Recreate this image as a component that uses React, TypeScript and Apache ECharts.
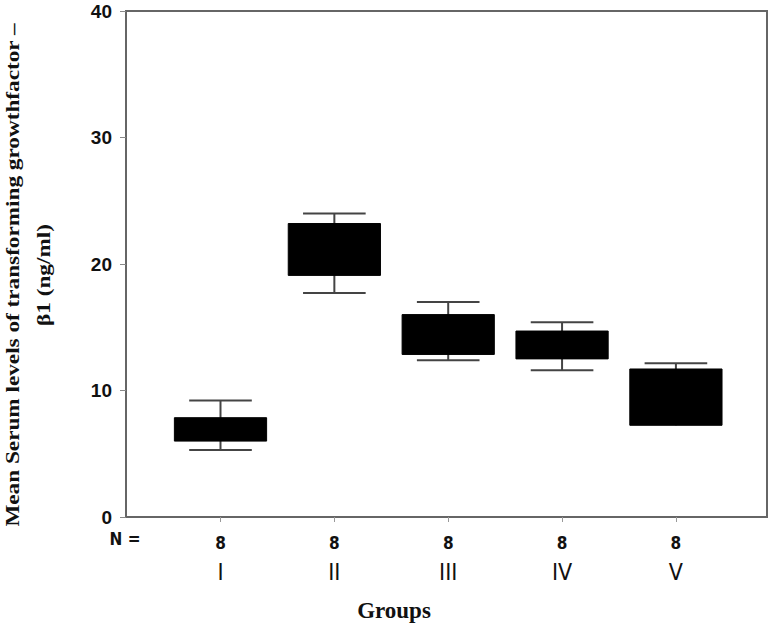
import React, { useEffect, useRef } from "react";
import * as echarts from "echarts";

const groups = ["I", "II", "III", "IV", "V"];
const nCounts = [8, 8, 8, 8, 8];
// box-plot statistics per group
const lowVals = [5.3, 17.7, 12.4, 11.6, 7.25];
const q1Vals = [6.0, 19.1, 12.85, 12.5, 7.25];
const medianVals = [6.9, 21.0, 14.5, 13.6, 9.5];
const q3Vals = [7.85, 23.2, 16.0, 14.7, 11.7];
const highVals = [9.2, 24.0, 17.0, 15.4, 12.15];
const yTicks = [0, 10, 20, 30, 40];
const xPositions = [1, 2, 3, 4, 5];

const narrow = "'DejaVu Sans Condensed', 'Liberation Sans Narrow', 'Liberation Sans', sans-serif";

export default function App() {
  const ref = useRef<HTMLDivElement>(null);
  useEffect(() => {
    if (!ref.current) return;
    const chart = echarts.init(ref.current, null, { renderer: "svg" });
    const data = groups.map((g, i) => [
      xPositions[i],
      lowVals[i],
      q1Vals[i],
      medianVals[i],
      q3Vals[i],
      highVals[i],
    ]);
    const baseX = {
      type: "value",
      min: 0.17,
      max: 5.8,
      position: "bottom",
      splitLine: { show: false },
    };
    const option: any = {
      animation: false,
      backgroundColor: "#ffffff",
      grid: {
        left: 126,
        right: 7,
        top: 11,
        bottom: 109,
        show: true,
        borderColor: "#666666",
        borderWidth: 2,
        backgroundColor: "transparent",
      },
      xAxis: [
        {
          ...baseX,
          axisLine: { show: true, lineStyle: { color: "#666666", width: 2 } },
          axisTick: {
            show: true,
            length: 5,
            customValues: xPositions,
            lineStyle: { color: "#999999", width: 1 },
          },
          axisLabel: {
            customValues: xPositions,
            margin: 17,
            fontFamily: narrow,
            fontWeight: "bold",
            fontSize: 17,
            color: "#111",
            formatter: (v: number) => String(nCounts[Math.round(v) - 1]),
          },
        },
        {
          ...baseX,
          axisLine: { show: false },
          axisTick: { show: false },
          axisLabel: {
            customValues: xPositions,
            margin: 43,
            fontFamily: narrow,
            fontSize: 23,
            color: "#111",
            formatter: (v: number) => groups[Math.round(v) - 1],
          },
        },
      ],
      yAxis: {
        type: "value",
        min: 0,
        max: 40,
        interval: 10,
        splitLine: { show: false },
        axisLine: { show: true, lineStyle: { color: "#666666", width: 2 } },
        axisTick: { show: true, length: 6, lineStyle: { color: "#888888" } },
        axisLabel: {
          fontFamily: "'Liberation Sans', Arial, sans-serif",
          fontWeight: "bold",
          fontSize: 19,
          color: "#111",
          margin: 14,
          formatter: (v: number) => (yTicks.includes(v) ? String(v) : ""),
        },
      },
      graphic: [
        {
          type: "text",
          x: 125,
          y: 539,
          style: {
            text: "N =",
            align: "center",
            verticalAlign: "middle",
            fontFamily: narrow,
            fontWeight: "bold",
            fontSize: 17,
            fill: "#111",
          },
        },
        {
          type: "text",
          x: 394,
          y: 610,
          style: {
            text: "Groups",
            align: "center",
            verticalAlign: "middle",
            fontFamily: "'Liberation Serif', 'Times New Roman', serif",
            fontWeight: "bold",
            fontSize: 23,
            fill: "#111",
          },
        },
        {
          type: "text",
          x: 28,
          y: 275,
          rotation: Math.PI / 2,
          scaleX: 1.29,
          style: {
            text: "Mean Serum levels of transforming growthfactor –\nβ1 (ng/ml)",
            align: "center",
            verticalAlign: "middle",
            fontFamily: "'Liberation Serif', 'Times New Roman', serif",
            fontWeight: "bold",
            fontSize: 18,
            lineHeight: 31,
            fill: "#111",
          },
        },
      ],
      series: [
        {
          type: "custom",
          xAxisIndex: 0,
          data,
          encode: { x: 0, y: [1, 2, 3, 4, 5] },
          renderItem: (params: any, api: any) => {
            const x = api.value(0);
            const low = api.coord([x, api.value(1)]);
            const q1 = api.coord([x, api.value(2)]);
            const q3 = api.coord([x, api.value(4)]);
            const high = api.coord([x, api.value(5)]);
            const boxW = api.size([0.81, 0])[0];
            const capW = api.size([0.55, 0])[0];
            const cx = low[0];
            const lineStyle = { stroke: "#444444", lineWidth: 2 };
            const children: any[] = [
              {
                type: "line",
                shape: { x1: cx, y1: high[1], x2: cx, y2: low[1] },
                style: lineStyle,
              },
              {
                type: "line",
                shape: { x1: cx - capW / 2, y1: high[1], x2: cx + capW / 2, y2: high[1] },
                style: lineStyle,
              },
            ];
            if (api.value(1) !== api.value(2)) {
              children.push({
                type: "line",
                shape: { x1: cx - capW / 2, y1: low[1], x2: cx + capW / 2, y2: low[1] },
                style: lineStyle,
              });
            }
            children.push({
              type: "rect",
              shape: { x: cx - boxW / 2, y: q3[1], width: boxW, height: q1[1] - q3[1] },
              style: { fill: "#000000", stroke: "#000000", lineWidth: 1 },
            });
            return { type: "group", children };
          },
        },
      ],
    };
    chart.setOption(option);
    return () => chart.dispose();
  }, []);
  return (
    <div
      ref={ref}
      style={{ position: "fixed", left: 0, top: 0, width: 774, height: 626 }}
    />
  );
}
